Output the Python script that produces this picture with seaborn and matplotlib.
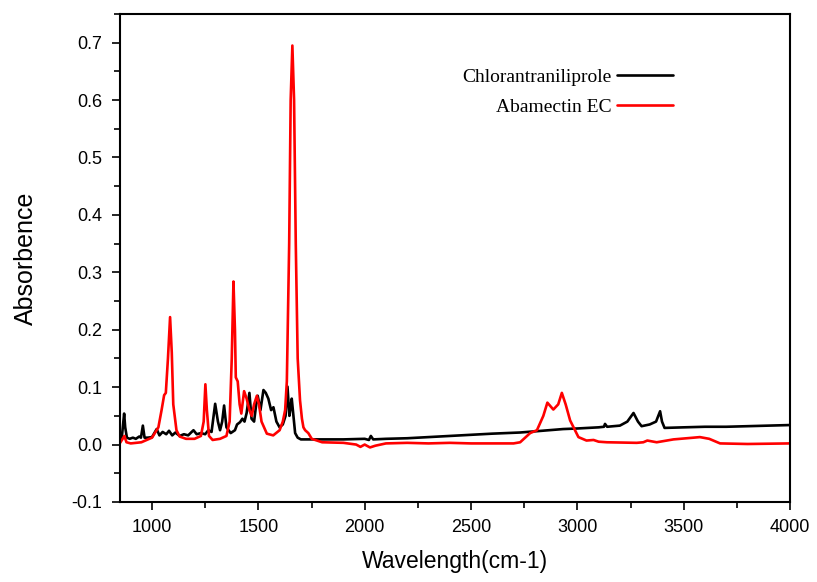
import numpy as np
import pandas as pd
import matplotlib
matplotlib.use("Agg")
import matplotlib.pyplot as plt
from matplotlib.ticker import MultipleLocator
import seaborn as sns

# Chlorantraniliprole spectrum
chlor_x = [850, 858, 864, 869, 874, 882, 895, 910, 924, 940, 948, 957, 965, 980, 1000,
           1022, 1035, 1050, 1067, 1080, 1095, 1110, 1130, 1150, 1170, 1195, 1210, 1230,
           1250, 1265, 1280, 1297, 1310, 1320, 1330, 1339, 1350, 1370, 1390, 1400, 1414,
           1425, 1435, 1445, 1458, 1468, 1480, 1490, 1497, 1510, 1524, 1535, 1547, 1560,
           1571, 1585, 1600, 1615, 1628, 1637, 1646, 1650, 1657, 1665, 1673, 1685, 1700,
           1750, 1800, 1900, 2000, 2020, 2029, 2040, 2100, 2200, 2300, 2400, 2500, 2600,
           2731, 2800, 2900, 2933, 3000, 3100, 3125, 3130, 3140, 3200, 3235, 3264, 3285,
           3302, 3340, 3370, 3389, 3398, 3410, 3500, 3600, 3700, 3800, 3900, 4000]
chlor_y = [0.008, 0.012, 0.035, 0.054, 0.030, 0.012, 0.010, 0.012, 0.010, 0.014, 0.012,
           0.033, 0.012, 0.012, 0.013, 0.027, 0.016, 0.022, 0.018, 0.024, 0.016, 0.021,
           0.015, 0.018, 0.016, 0.025, 0.018, 0.020, 0.018, 0.025, 0.022, 0.071, 0.040,
           0.025, 0.040, 0.068, 0.030, 0.020, 0.025, 0.035, 0.039, 0.045, 0.040, 0.055,
           0.090, 0.045, 0.040, 0.070, 0.085, 0.060, 0.095, 0.090, 0.080, 0.060, 0.065,
           0.040, 0.030, 0.035, 0.050, 0.101, 0.050, 0.060, 0.080, 0.050, 0.020, 0.012,
           0.009, 0.009, 0.009, 0.009, 0.010, 0.008, 0.015, 0.009, 0.010, 0.011, 0.013,
           0.015, 0.017, 0.019, 0.021, 0.023, 0.026, 0.027, 0.028, 0.030, 0.031, 0.036,
           0.031, 0.033, 0.040, 0.055, 0.040, 0.032, 0.035, 0.040, 0.058, 0.040, 0.029,
           0.030, 0.031, 0.031, 0.032, 0.033, 0.034]

# Abamectin EC spectrum
abam_x = [850, 862, 870, 880, 900, 950, 1000, 1030, 1045, 1057, 1065, 1075, 1085, 1093,
          1100, 1115, 1130, 1160, 1200, 1230, 1243, 1251, 1258, 1268, 1285, 1320, 1350,
          1365, 1375, 1383, 1390, 1394, 1403, 1412, 1420, 1433, 1445, 1458, 1469, 1480,
          1493, 1503, 1515, 1540, 1570, 1600, 1615, 1626, 1634, 1645, 1652, 1660, 1668,
          1676, 1685, 1696, 1705, 1712, 1720, 1735, 1751, 1800, 1900, 1960, 1980, 2000,
          2025, 2050, 2100, 2200, 2300, 2400, 2500, 2600, 2700, 2731, 2778, 2810, 2840,
          2859, 2887, 2910, 2927, 2945, 2966, 3005, 3043, 3076, 3100, 3139, 3279, 3310,
          3329, 3373, 3452, 3546, 3576, 3620, 3671, 3800, 4000]
abam_y = [0.003, 0.010, 0.015, 0.004, 0.002, 0.004, 0.012, 0.030, 0.060, 0.086, 0.090,
          0.150, 0.222, 0.160, 0.070, 0.025, 0.014, 0.010, 0.010, 0.015, 0.040, 0.105,
          0.060, 0.015, 0.008, 0.010, 0.015, 0.040, 0.150, 0.284, 0.200, 0.117, 0.110,
          0.070, 0.054, 0.093, 0.080, 0.060, 0.050, 0.070, 0.085, 0.070, 0.040, 0.019,
          0.016, 0.025, 0.040, 0.060, 0.110, 0.350, 0.600, 0.695, 0.600, 0.350, 0.150,
          0.077, 0.045, 0.030, 0.025, 0.020, 0.010, 0.004, 0.003, 0.000, -0.004, 0.000,
          -0.005, -0.002, 0.002, 0.003, 0.002, 0.003, 0.002, 0.002, 0.002, 0.004,
          0.020, 0.025, 0.050, 0.073, 0.061, 0.070, 0.090, 0.070, 0.042, 0.013, 0.007,
          0.008, 0.005, 0.004, 0.003, 0.004, 0.007, 0.004, 0.009, 0.012, 0.013, 0.010,
          0.002, 0.001, 0.002]

series_names = ["Chlorantraniliprole", "Abamectin EC"]

sns.set_style("white")
fig = plt.figure(figsize=(8.17, 5.82), dpi=100)
ax = fig.add_axes([0.147, 0.1375, 0.820, 0.8385])

sns.lineplot(x=chlor_x, y=chlor_y, ax=ax, color="black", linewidth=1.9,
             sort=False, estimator=None, label=series_names[0])
sns.lineplot(x=abam_x, y=abam_y, ax=ax, color="#ff0000", linewidth=1.9,
             sort=False, estimator=None, label=series_names[1])

ax.set_xlim(850, 4000)
ax.set_ylim(-0.1, 0.75)
ax.xaxis.set_major_locator(MultipleLocator(500))
ax.xaxis.set_minor_locator(MultipleLocator(250))
ax.yaxis.set_major_locator(MultipleLocator(0.1))
ax.yaxis.set_minor_locator(MultipleLocator(0.05))
ax.set_yticks(np.arange(-0.1, 0.71, 0.1))
ax.set_yticklabels([f"{v:.1f}" for v in np.arange(-0.1, 0.71, 0.1)])

ax.tick_params(which="both", direction="out", bottom=True, left=True,
               top=False, right=False, labelsize=13, colors="black")
ax.tick_params(which="major", length=6, width=1.2)
ax.tick_params(which="minor", length=4, width=1.2)
ax.tick_params(axis="y", which="major", pad=7)
ax.tick_params(axis="x", which="major", pad=6)
for lab in ax.get_xticklabels() + ax.get_yticklabels():
    lab.set_family("Liberation Sans")
for sp in ax.spines.values():
    sp.set_color("black")
    sp.set_linewidth(1.5)

ax.set_xlabel("Wavelength(cm-1)", fontsize=16.5, family="Liberation Sans",
              labelpad=10, color="black")
ax.set_ylabel("Absorbence", fontsize=18, family="Liberation Sans",
              labelpad=24, color="black")

leg = ax.legend(loc="upper right", bbox_to_anchor=(0.852, 0.925), frameon=False,
                markerfirst=False, handlelength=2.9, handletextpad=0.3,
                labelspacing=0.65,
                prop={"family": "Liberation Serif", "size": 14})
for t in leg.get_texts():
    t.set_color("black")

fig.savefig("out.png", dpi=100)
